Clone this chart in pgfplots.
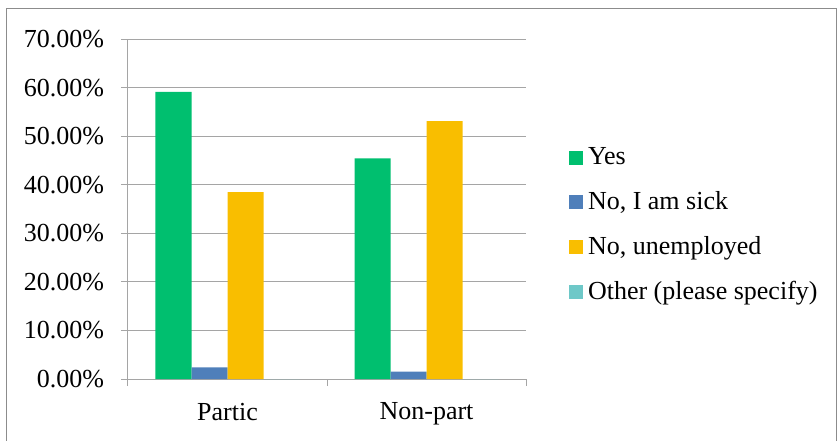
\documentclass[border=0pt]{standalone}
\usepackage{pgfplots}
\pgfplotsset{compat=1.18}
\usepackage{fontspec}
\setmainfont{Liberation Serif}
\definecolor{cyes}{RGB}{0,191,111}
\definecolor{csick}{RGB}{79,127,186}
\definecolor{cunemp}{RGB}{249,190,0}
\definecolor{cother}{RGB}{110,200,200}
\definecolor{cgrid}{RGB}{165,165,165}
\definecolor{cborder}{RGB}{140,140,140}
\begin{document}
\fontsize{26}{31}\selectfont
\begin{tikzpicture}
\useasboundingbox (-128pt,-61pt) rectangle (709pt,379pt);
\draw[cborder, line width=1pt] (-121pt,-63pt) rectangle (708pt,370pt);
\begin{axis}[
  at={(0pt,0pt)}, anchor=south west,
  scale only axis, width=398pt, height=340pt,
  ybar=0pt, bar width=36pt,
  xmin=-0.5, xmax=1.5, ymin=0, ymax=70,
  xtick={-0.5,0.5,1.5}, xticklabels={},
  extra x ticks={0,1}, extra x tick labels={Partic,Non-part},
  extra x tick style={major tick length=0pt, grid=none, tick label style={yshift=-15pt}},
  ytick={0,10,...,70},
  yticklabel={\pgfmathprintnumber[fixed,fixed zerofill,precision=2]{\tick}\%},
  yticklabel style={xshift=-8pt},
  /pgf/number format/assume math mode=true,
  ymajorgrids, grid style={cgrid, line width=1pt},
  axis x line*=bottom, axis y line*=left,
  axis line style={cgrid, line width=1pt},
  tick style={cgrid, line width=1pt},
  tick align=outside,
  major tick length=7pt,
  tick label style={font=\fontsize{26}{31}\selectfont, text=black},
  legend style={at={(1.1,0.4515)}, anchor=west, draw=none, fill=none,
    font=\fontsize{26}{31}\selectfont, row sep=19pt,
    /tikz/every odd column/.append style={column sep=3pt}},
  legend cell align=left,
  legend image code/.code={\fill[#1] (0pt,-7pt) rectangle (14pt,7pt);},
]
\addplot[fill=cyes, draw=none] coordinates {(0,59.1) (1,45.4)};
\addplot[fill=csick, draw=none] coordinates {(0,2.4) (1,1.5)};
\addplot[fill=cunemp, draw=none] coordinates {(0,38.5) (1,53.1)};
\addplot[fill=cother, draw=none] coordinates {(0,0) (1,0)};
\legend{Yes, {No, I am sick}, {No, unemployed}, Other (please specify)}
\end{axis}
\end{tikzpicture}
\end{document}
